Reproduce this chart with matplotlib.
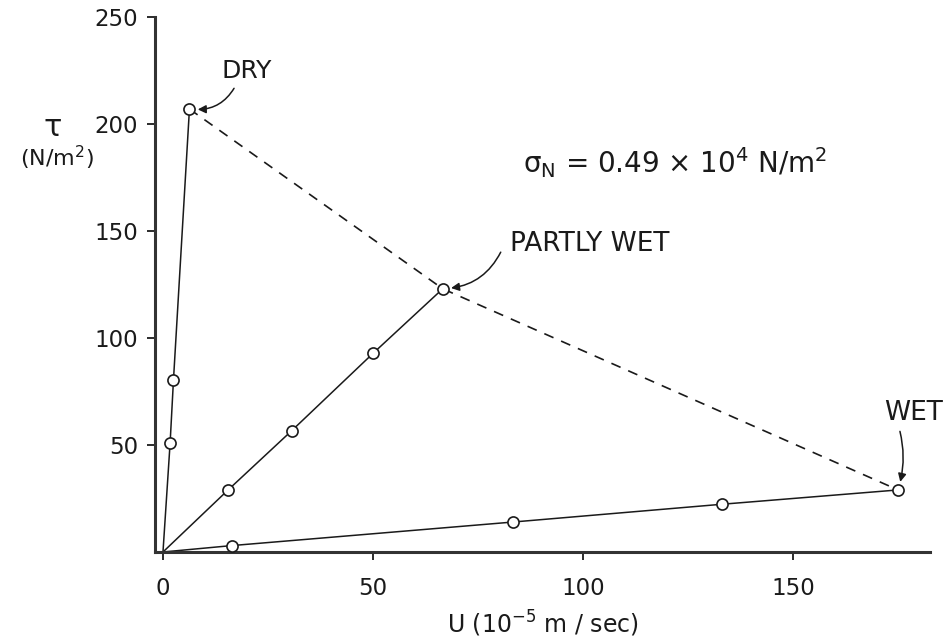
import matplotlib.pyplot as plt

# values
dry_u = [0, 1.7, 2.5, 6.3]
dry_tau = [0, 51, 80.5, 207]

partly_u = [0, 15.5, 30.6, 50.1, 66.6]
partly_tau = [0, 29, 56.6, 93, 123]

wet_u = [0, 16.4, 83.3, 133, 175]
wet_tau = [0, 3, 14, 22.3, 29]

x_ticks = [0, 50, 100, 150]
y_ticks = [50, 100, 150, 200, 250]

ink = '#1a1a1a'

fig = plt.figure(figsize=(9.49, 6.4), dpi=100)
ax = fig.add_axes([155 / 949, 88 / 640, 775 / 949, 535 / 640])

for u, t in [(dry_u, dry_tau), (partly_u, partly_tau), (wet_u, wet_tau)]:
    ax.plot(u, t, color=ink, lw=1.1, zorder=2)
    ax.plot(u[1:], t[1:], 'o', ms=8, mfc='white', mec=ink, mew=1.2, zorder=3)

# dashed envelope through the top point of each series
env_u = [dry_u[-1], partly_u[-1], wet_u[-1]]
env_tau = [dry_tau[-1], partly_tau[-1], wet_tau[-1]]
ax.plot(env_u, env_tau, color=ink, lw=1.2, dashes=(6, 5), zorder=1)

ax.set_xlim(-1.9, 182.6)
ax.set_ylim(0, 250)
ax.set_xticks(x_ticks)
ax.set_yticks(y_ticks)
ax.tick_params(direction='out', length=6, width=1.3, colors=ink, labelsize=16.5, pad=6)
ax.tick_params(axis='x', length=6, pad=12)
ax.spines['top'].set_visible(False)
ax.spines['right'].set_visible(False)
for s in ['left', 'bottom']:
    ax.spines[s].set_linewidth(2.2)
    ax.spines[s].set_color('#333333')

ax.set_xlabel(r'U (10$^{-5}$ m / sec)', fontsize=17, color=ink, labelpad=6)
fig.text(53 / 949, 1 - 127 / 640, 'τ', fontsize=22, ha='center', va='center', color=ink)
fig.text(57 / 949, 1 - 158 / 640, '(N/m$^2$)', fontsize=16, ha='center', va='center', color=ink)

ax.text(85.7, 182, r'σ$_\mathregular{N}$ = 0.49 × 10$^4$ N/m$^2$', fontsize=20, va='center',
        ha='left', color=ink)

arrow = dict(arrowstyle='-|>', color=ink, lw=1.1, shrinkA=2, shrinkB=6, mutation_scale=12)
ax.annotate('DRY', xy=(dry_u[-1], dry_tau[-1]), xytext=(20, 224.7), fontsize=18, ha='center',
            va='center', color=ink,
            arrowprops=dict(arrow, connectionstyle='arc3,rad=-0.35', relpos=(0.3, 0)))
ax.annotate('PARTLY WET', xy=(partly_u[-1], partly_tau[-1]), xytext=(82.6, 143.7), fontsize=19,
            ha='left', va='center', color=ink,
            arrowprops=dict(arrow, connectionstyle='arc3,rad=-0.3', relpos=(-0.05, 0.3)))
ax.annotate('WET', xy=(wet_u[-1], wet_tau[-1]), xytext=(178.6, 65), fontsize=19, ha='center',
            va='center', color=ink,
            arrowprops=dict(arrow, connectionstyle='arc3,rad=-0.15', relpos=(0.25, 0)))

fig.savefig('out.png', dpi=100, facecolor='white')
